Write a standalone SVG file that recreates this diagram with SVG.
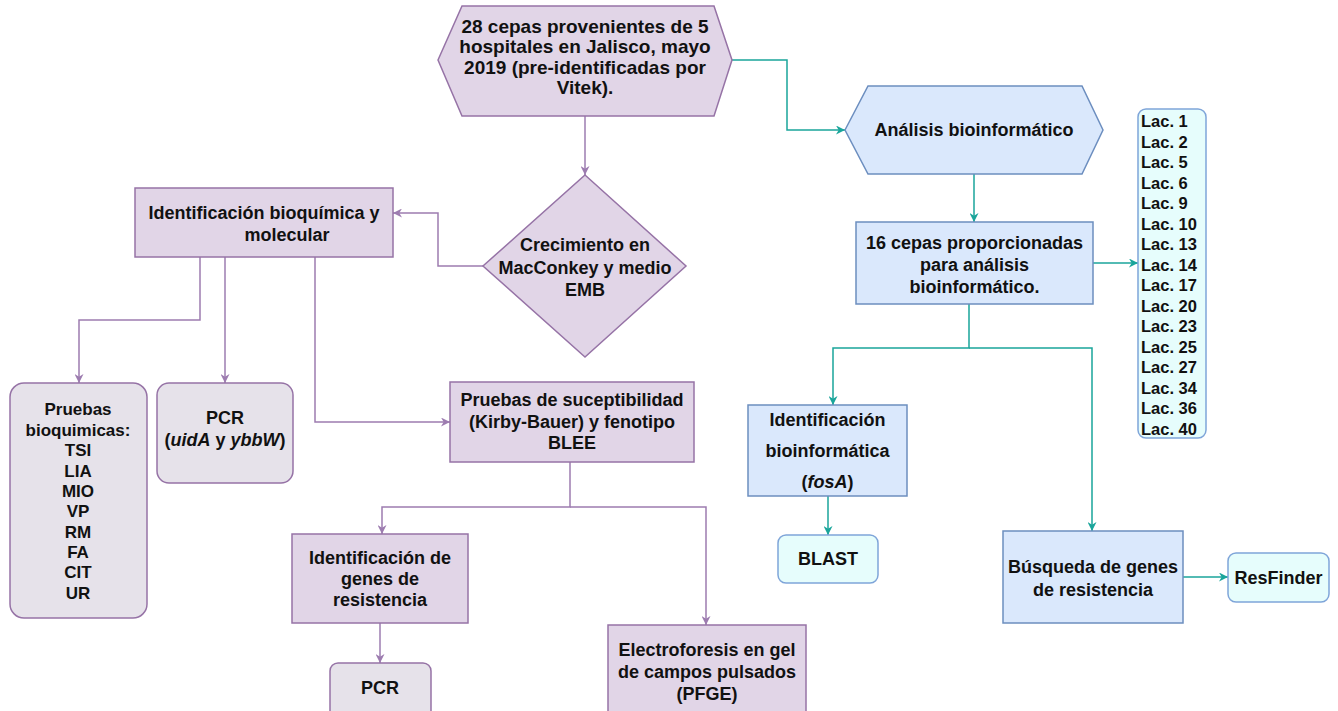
<svg xmlns="http://www.w3.org/2000/svg" width="1338" height="711" viewBox="0 0 1338 711">
<style>
text{font-family:"Liberation Sans",Arial,Helvetica,sans-serif;font-weight:bold;font-size:18px;fill:#111;text-anchor:middle}
.purple{fill:#e1d5e7;stroke:#9673a6;stroke-width:1.5}
.grey{fill:#e6e2ea;stroke:#9673a6;stroke-width:1.5}
.blue{fill:#dae8fc;stroke:#6c8ebf;stroke-width:1.5}
.cyan{fill:#e6fdfc;stroke:#7fa5d9;stroke-width:1.5}
.cp{fill:none;stroke:#9d7cb0;stroke-width:1.5}
.ct{fill:none;stroke:#1aa59b;stroke-width:1.5}
.it{font-style:italic}
</style>
<defs>
<marker id="ap" viewBox="0 0 10 10" refX="10" refY="5" markerWidth="10" markerHeight="9" markerUnits="userSpaceOnUse" orient="auto"><path d="M0,0 L10,5 L0,10 L3,5 Z" fill="#9d7cb0"/></marker>
<marker id="at" viewBox="0 0 10 10" refX="10" refY="5" markerWidth="10" markerHeight="9" markerUnits="userSpaceOnUse" orient="auto"><path d="M0,0 L10,5 L0,10 L3,5 Z" fill="#1aa59b"/></marker>
</defs>
<rect width="1338" height="711" fill="#fff"/>

<g id="connectors">
<path class="cp" d="M585,116 V175" marker-end="url(#ap)"/>
<path class="cp" d="M483,266 H438 V213 H393" marker-end="url(#ap)"/>
<path class="cp" d="M200,257 V320 H79 V383" marker-end="url(#ap)"/>
<path class="cp" d="M225,257 V383" marker-end="url(#ap)"/>
<path class="cp" d="M315,257 V422 H450" marker-end="url(#ap)"/>
<path class="cp" d="M570,462 V507 H382 V534" marker-end="url(#ap)"/>
<path class="cp" d="M570,507 H706 V625" marker-end="url(#ap)"/>
<path class="cp" d="M380,623 V663" marker-end="url(#ap)"/>
<path class="ct" d="M732,60 H787 V130 H845" marker-end="url(#at)"/>
<path class="ct" d="M974,174 V222" marker-end="url(#at)"/>
<path class="ct" d="M1093,263 H1138" marker-end="url(#at)"/>
<path class="ct" d="M969,304 V348 H833 V405" marker-end="url(#at)"/>
<path class="ct" d="M969,348 H1092 V531" marker-end="url(#at)"/>
<path class="ct" d="M828,496 V535" marker-end="url(#at)"/>
<path class="ct" d="M1183,577 H1228" marker-end="url(#at)"/>
</g>

<g id="n-cepas">
<polygon class="purple" points="438,60 462,6 714,6 732,60 714,116 462,116"/>
<text style="font-size:19px"><tspan x="585" y="33">28 cepas provenientes de 5</tspan><tspan x="585" y="53">hospitales en Jalisco, mayo</tspan><tspan x="585" y="74">2019 (pre-identificadas por</tspan><tspan x="585" y="94">Vitek).</tspan></text>
</g>

<g id="n-crecimiento">
<polygon class="purple" points="585,175 686,266 585,357 483,266"/>
<text><tspan x="585" y="251">Crecimiento en</tspan><tspan x="585" y="274">MacConkey y medio</tspan><tspan x="585" y="296">EMB</tspan></text>
</g>

<g id="n-identificacion">
<rect class="purple" x="135" y="188" width="258" height="69"/>
<text><tspan x="264" y="219">Identificación bioquímica y</tspan><tspan x="287" y="241">molecular</tspan></text>
</g>

<g id="n-bioquimicas">
<rect class="grey" x="10" y="383" width="137" height="235" rx="14"/>
<text style="font-size:17px"><tspan x="78" y="415">Pruebas</tspan><tspan x="78" y="435.5">bioquimicas:</tspan><tspan x="78" y="456">TSI</tspan><tspan x="78" y="476.5">LIA</tspan><tspan x="78" y="497">MIO</tspan><tspan x="78" y="517">VP</tspan><tspan x="78" y="537.5">RM</tspan><tspan x="78" y="558">FA</tspan><tspan x="78" y="578">CIT</tspan><tspan x="78" y="598.5">UR</tspan></text>
</g>

<g id="n-pcr1">
<rect class="grey" x="157" y="383" width="136" height="100" rx="12"/>
<text><tspan x="225" y="424">PCR</tspan><tspan x="225" y="446">(<tspan class="it">uidA</tspan> y <tspan class="it">ybbW</tspan>)</tspan></text>
</g>

<g id="n-susceptibilidad">
<rect class="purple" x="450" y="382" width="244" height="80"/>
<text><tspan x="572" y="406">Pruebas de suceptibilidad</tspan><tspan x="572" y="428">(Kirby-Bauer) y fenotipo</tspan><tspan x="572" y="449">BLEE</tspan></text>
</g>

<g id="n-genes">
<rect class="purple" x="292" y="534" width="176" height="89"/>
<text><tspan x="380" y="564">Identificación de</tspan><tspan x="380" y="585">genes de</tspan><tspan x="380" y="606">resistencia</tspan></text>
</g>

<g id="n-pcr2">
<rect class="grey" x="330" y="663" width="101" height="60" rx="8"/>
<text x="380" y="694">PCR</text>
</g>

<g id="n-pfge">
<rect class="purple" x="608" y="625" width="198" height="100"/>
<text><tspan x="707" y="656">Electroforesis en gel</tspan><tspan x="707" y="678">de campos pulsados</tspan><tspan x="707" y="700">(PFGE)</tspan></text>
</g>

<g id="n-analisis">
<polygon class="blue" points="845,130 868,86 1082,86 1103,130 1082,174 868,174"/>
<text x="974" y="136">Análisis bioinformático</text>
</g>

<g id="n-16cepas">
<rect class="blue" x="856" y="222" width="237" height="82"/>
<text><tspan x="974.5" y="249">16 cepas proporcionadas</tspan><tspan x="974.5" y="271">para análisis</tspan><tspan x="974.5" y="293">bioinformático.</tspan></text>
</g>

<g id="n-lac">
<rect class="cyan" x="1138" y="109" width="68" height="329" rx="8"/>
<text style="font-size:16.5px;text-anchor:start"><tspan x="1141" y="127">Lac. 1</tspan><tspan x="1141" y="147.5">Lac. 2</tspan><tspan x="1141" y="168">Lac. 5</tspan><tspan x="1141" y="188.5">Lac. 6</tspan><tspan x="1141" y="209">Lac. 9</tspan><tspan x="1141" y="229.5">Lac. 10</tspan><tspan x="1141" y="250">Lac. 13</tspan><tspan x="1141" y="270.5">Lac. 14</tspan><tspan x="1141" y="291">Lac. 17</tspan><tspan x="1141" y="311.5">Lac. 20</tspan><tspan x="1141" y="332">Lac. 23</tspan><tspan x="1141" y="352.5">Lac. 25</tspan><tspan x="1141" y="373">Lac. 27</tspan><tspan x="1141" y="393.5">Lac. 34</tspan><tspan x="1141" y="414">Lac. 36</tspan><tspan x="1141" y="434.5">Lac. 40</tspan></text>
</g>

<g id="n-bioinf-id">
<rect class="blue" x="748" y="405" width="159" height="91"/>
<text><tspan x="827.5" y="426">Identificación</tspan><tspan x="827.5" y="457">bioinformática</tspan><tspan x="827.5" y="488">(<tspan class="it">fosA</tspan>)</tspan></text>
</g>

<g id="n-blast">
<rect class="cyan" x="778" y="535" width="100" height="48" rx="8"/>
<text x="828" y="565">BLAST</text>
</g>

<g id="n-busqueda">
<rect class="blue" x="1003" y="531" width="180" height="92"/>
<text><tspan x="1093" y="573">Búsqueda de genes</tspan><tspan x="1093" y="596">de resistencia</tspan></text>
</g>

<g id="n-resfinder">
<rect class="cyan" x="1228" y="553" width="101" height="49" rx="8"/>
<text x="1278.5" y="584">ResFinder</text>
</g>
</svg>
